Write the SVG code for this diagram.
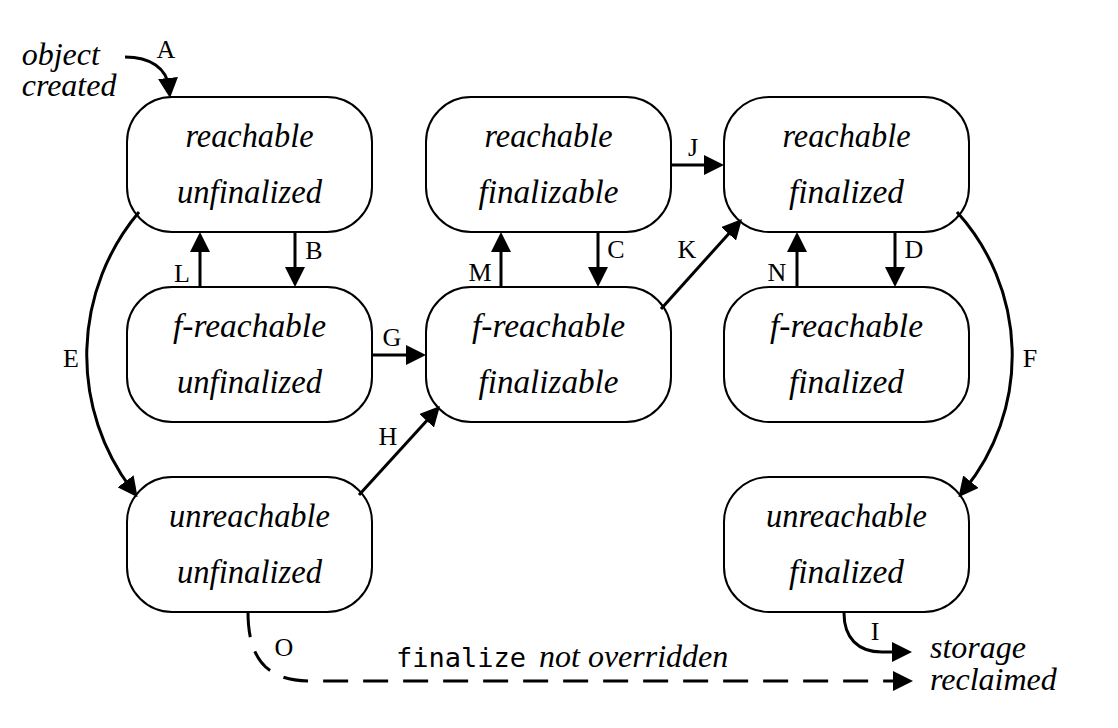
<svg xmlns="http://www.w3.org/2000/svg" width="1118" height="728" viewBox="0 0 1118 728">
<style>
.node rect{fill:#fff;stroke:#000;stroke-width:2}
.node text{font-family:"Liberation Serif","Times New Roman",serif;font-style:italic;font-size:33px;text-anchor:middle;fill:#000}
.it{font-family:"Liberation Serif","Times New Roman",serif;font-style:italic;font-size:32px;fill:#000}
.mono{font-family:"DejaVu Sans Mono","Liberation Mono",monospace;font-size:27px;fill:#000}
.lbl{font-family:"Liberation Serif","Times New Roman",serif;font-size:26px;text-anchor:middle;fill:#000}
.edge{fill:none;stroke:#000;stroke-width:3;marker-end:url(#ah)}
.dash{stroke-dasharray:25 15}
</style>
<defs>
<marker id="ah" markerUnits="userSpaceOnUse" markerWidth="20" markerHeight="20" refX="10" refY="10" orient="auto">
<path d="M0,0 L20,10 L0,20 z" fill="#000"/>
</marker>
</defs>
<rect width="1118" height="728" fill="#fff"/>

<g id="n-reachable-unfinalized" class="node">
<rect x="127" y="97" width="245" height="135" rx="45" ry="45"/>
<text x="249.5" y="146.7" textLength="128" lengthAdjust="spacingAndGlyphs">reachable</text>
<text x="249.5" y="203.3" textLength="145" lengthAdjust="spacingAndGlyphs">unfinalized</text>
</g>
<g id="n-reachable-finalizable" class="node">
<rect x="426" y="97" width="245" height="135" rx="45" ry="45"/>
<text x="548.5" y="146.7" textLength="128" lengthAdjust="spacingAndGlyphs">reachable</text>
<text x="548.5" y="203.3" textLength="140" lengthAdjust="spacingAndGlyphs">finalizable</text>
</g>
<g id="n-reachable-finalized" class="node">
<rect x="724" y="97" width="245" height="135" rx="45" ry="45"/>
<text x="846.5" y="146.7" textLength="128" lengthAdjust="spacingAndGlyphs">reachable</text>
<text x="846.5" y="203.3" textLength="115" lengthAdjust="spacingAndGlyphs">finalized</text>
</g>
<g id="n-freachable-unfinalized" class="node">
<rect x="127" y="287" width="245" height="135" rx="45" ry="45"/>
<text x="249.5" y="336.7" textLength="153" lengthAdjust="spacingAndGlyphs">f-reachable</text>
<text x="249.5" y="393.3" textLength="145" lengthAdjust="spacingAndGlyphs">unfinalized</text>
</g>
<g id="n-freachable-finalizable" class="node">
<rect x="426" y="287" width="245" height="135" rx="45" ry="45"/>
<text x="548.5" y="336.7" textLength="153" lengthAdjust="spacingAndGlyphs">f-reachable</text>
<text x="548.5" y="393.3" textLength="140" lengthAdjust="spacingAndGlyphs">finalizable</text>
</g>
<g id="n-freachable-finalized" class="node">
<rect x="724" y="287" width="245" height="135" rx="45" ry="45"/>
<text x="846.5" y="336.7" textLength="153" lengthAdjust="spacingAndGlyphs">f-reachable</text>
<text x="846.5" y="393.3" textLength="115" lengthAdjust="spacingAndGlyphs">finalized</text>
</g>
<g id="n-unreachable-unfinalized" class="node">
<rect x="127" y="477" width="245" height="135" rx="45" ry="45"/>
<text x="249.5" y="526.7" textLength="161" lengthAdjust="spacingAndGlyphs">unreachable</text>
<text x="249.5" y="583.3" textLength="145" lengthAdjust="spacingAndGlyphs">unfinalized</text>
</g>
<g id="n-unreachable-finalized" class="node">
<rect x="724" y="477" width="245" height="135" rx="45" ry="45"/>
<text x="846.5" y="526.7" textLength="161" lengthAdjust="spacingAndGlyphs">unreachable</text>
<text x="846.5" y="583.3" textLength="115" lengthAdjust="spacingAndGlyphs">finalized</text>
</g>

<g id="t-object-created">
<text class="it" x="21.7" y="65">object</text>
<text class="it" x="21.7" y="96">created</text>
</g>
<g id="t-storage-reclaimed">
<text class="it" x="930" y="658">storage</text>
<text class="it" x="930" y="690">reclaimed</text>
</g>

<g id="connectors">
<path class="edge" d="M125,57 C150,57 167,68 169,88"/>
<path class="edge" d="M295,232 V277"/>
<path class="edge" d="M200,287 V242"/>
<path class="edge" d="M598,232 V277"/>
<path class="edge" d="M501,287 V242"/>
<path class="edge" d="M895,232 V277"/>
<path class="edge" d="M797,287 V242"/>
<path class="edge" d="M372,355 H416"/>
<path class="edge" d="M671,165 H714"/>
<path class="edge" d="M359,495 L433.3,413.4"/>
<path class="edge" d="M661,309 L735.3,226.4"/>
<path class="edge" d="M139,212 A222.6,222.6 0 0 0 131.6,489.3"/>
<path class="edge" d="M957,212 A213.4,213.4 0 0 1 964.7,489.5"/>
<path class="edge" d="M844,613 C844,638 858,652 882,652 L902,652"/>
<path class="edge dash" d="M248,612 C248,660 268,681 310,681 L903,681"/>
<text class="lbl" x="166" y="58">A</text>
<text class="lbl" x="314" y="259">B</text>
<text class="lbl" x="182" y="282">L</text>
<text class="lbl" x="71" y="367">E</text>
<text class="lbl" x="392" y="346">G</text>
<text class="lbl" x="388" y="445">H</text>
<text class="lbl" x="480" y="281">M</text>
<text class="lbl" x="616" y="258">C</text>
<text class="lbl" x="693" y="156">J</text>
<text class="lbl" x="687" y="258">K</text>
<text class="lbl" x="777" y="281">N</text>
<text class="lbl" x="914" y="258">D</text>
<text class="lbl" x="1030" y="367">F</text>
<text class="lbl" x="875" y="640">I</text>
<text class="lbl" x="284" y="656">O</text>
<text x="396" y="666.7"><tspan class="mono">finalize</tspan><tspan class="it" x="539">not overridden</tspan></text>
</g>
</svg>
